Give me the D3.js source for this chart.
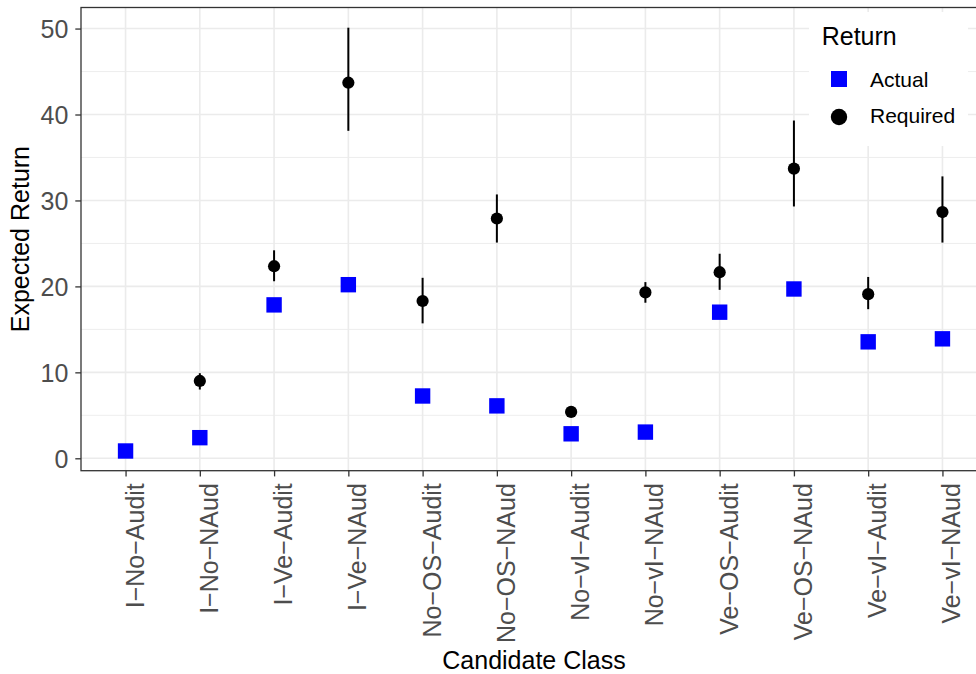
<!DOCTYPE html>
<html>
<head>
<meta charset="utf-8">
<script src="https://cdn.jsdelivr.net/npm/d3@7"></script>
<style>
  body { margin: 0; background: #fff; }
  svg { display: block; font-family: 'Liberation Sans', Arial, Helvetica, sans-serif; }
</style>
</head>
<body>
<svg id="svg" width="976" height="674"></svg>
<script>
// values
const categories = [
  'I−No−Audit', 'I−No−NAud', 'I−Ve−Audit', 'I−Ve−NAud',
  'No−OS−Audit', 'No−OS−NAud', 'No−vI−Audit', 'No−vI−NAud',
  'Ve−OS−Audit', 'Ve−OS−NAud', 'Ve−vI−Audit', 'Ve−vI−NAud'
];
const actual = [0.85, 2.4, 17.85, 20.2, 7.25, 6.1, 2.85, 3.05, 17.0, 19.7, 13.55, 13.9];
const required = [null, 9.0, 22.35, 43.7, 18.3, 27.9, 5.4, 19.3, 21.65, 33.7, 19.1, 28.65];
const requiredLow = [null, 8.0, 20.6, 38.1, 15.7, 25.1, 5.2, 18.1, 19.6, 29.3, 17.35, 25.1];
const requiredHigh = [null, 9.9, 24.2, 50.1, 21.0, 30.7, 5.6, 20.5, 23.8, 39.3, 21.1, 32.8];
const yTicks = [0, 10, 20, 30, 40, 50];
const yMinor = [5, 15, 25, 35, 45];
const legendLabels = ['Actual', 'Required'];

const rows = categories.map((c, i) => ({
  cat: c,
  actual: actual[i],
  req: required[i],
  lo: requiredLow[i],
  hi: requiredHigh[i]
}));

// panel box (right side runs past the picture edge, as in the reference)
const panel = { left: 81, right: 987, top: 7.5, bottom: 470.7 };

const svg = d3.select('#svg');
svg.append('rect').attr('width', 976).attr('height', 674).attr('fill', '#fff');

const x = d3.scalePoint()
  .domain(categories)
  .range([panel.left, panel.right])
  .padding(0.6);

const y = d3.scaleLinear()
  .domain([-1.443, 52.45])
  .range([panel.bottom, panel.top]);

const grid = svg.append('g').attr('class', 'grid');

grid.selectAll('line.minor')
  .data(yMinor)
  .join('line')
  .attr('class', 'minor')
  .attr('x1', panel.left).attr('x2', panel.right)
  .attr('y1', d => y(d)).attr('y2', d => y(d))
  .attr('stroke', '#ebebeb')
  .attr('stroke-width', 0.9);

grid.selectAll('line.majorY')
  .data(yTicks)
  .join('line')
  .attr('class', 'majorY')
  .attr('x1', panel.left).attr('x2', panel.right)
  .attr('y1', d => y(d)).attr('y2', d => y(d))
  .attr('stroke', '#ebebeb')
  .attr('stroke-width', 1.6);

grid.selectAll('line.majorX')
  .data(categories)
  .join('line')
  .attr('class', 'majorX')
  .attr('x1', d => x(d)).attr('x2', d => x(d))
  .attr('y1', panel.top).attr('y2', panel.bottom)
  .attr('stroke', '#ebebeb')
  .attr('stroke-width', 1.6);

// actual returns: blue squares
const sq = 15.4;
svg.append('g')
  .selectAll('rect')
  .data(rows)
  .join('rect')
  .attr('x', d => x(d.cat) - sq / 2)
  .attr('y', d => y(d.actual) - sq / 2)
  .attr('width', sq)
  .attr('height', sq)
  .attr('fill', '#0000ff');

// required returns: point + range
const req = svg.append('g')
  .selectAll('g')
  .data(rows.filter(d => d.req != null))
  .join('g');

req.append('line')
  .attr('x1', d => x(d.cat)).attr('x2', d => x(d.cat))
  .attr('y1', d => y(d.lo)).attr('y2', d => y(d.hi))
  .attr('stroke', '#000')
  .attr('stroke-width', 2);

req.append('circle')
  .attr('cx', d => x(d.cat))
  .attr('cy', d => y(d.req))
  .attr('r', 6.1)
  .attr('fill', '#000');

// legend inside panel, top right
const lg = svg.append('g').attr('transform', 'translate(809,12)');
lg.append('rect')
  .attr('width', 159).attr('height', 134)
  .attr('fill', '#fff');
lg.append('text')
  .attr('x', 12.7).attr('y', 33)
  .attr('font-size', 25)
  .attr('fill', '#000')
  .text('Return');
lg.append('rect')
  .attr('x', 30 - 8).attr('y', 67 - 8)
  .attr('width', 16).attr('height', 16)
  .attr('fill', '#0000ff');
lg.append('circle')
  .attr('cx', 30).attr('cy', 105)
  .attr('r', 8.2)
  .attr('fill', '#000');
lg.selectAll('text.lab')
  .data(legendLabels)
  .join('text')
  .attr('class', 'lab')
  .attr('x', 61)
  .attr('y', (d, i) => 75 + i * 36)
  .attr('font-size', 21)
  .attr('fill', '#000')
  .text(d => d);

// panel border
svg.append('rect')
  .attr('x', panel.left).attr('y', panel.top)
  .attr('width', panel.right - panel.left)
  .attr('height', panel.bottom - panel.top)
  .attr('fill', 'none')
  .attr('stroke', '#333333')
  .attr('stroke-width', 1.3);

// y axis
const yAxis = svg.append('g')
  .attr('transform', `translate(${panel.left},0)`)
  .call(d3.axisLeft(y).tickValues(yTicks).tickSize(5.7).tickPadding(7));
yAxis.select('.domain').remove();
yAxis.selectAll('.tick line').attr('stroke', '#333333').attr('stroke-width', 1.3);
yAxis.selectAll('.tick text')
  .attr('font-size', 25)
  .attr('font-family', null)
  .attr('fill', '#4d4d4d')
  .attr('dy', '0.36em');

// x axis
const xAxis = svg.append('g')
  .attr('transform', `translate(0,${panel.bottom})`)
  .call(d3.axisBottom(x).tickSize(5.7).tickFormat(''));
xAxis.select('.domain').remove();
xAxis.selectAll('.tick line').attr('stroke', '#333333').attr('stroke-width', 1.3);
xAxis.selectAll('.tick')
  .append('text')
  .attr('transform', 'translate(17.5,12.5) rotate(-90)')
  .attr('text-anchor', 'end')
  .attr('font-size', 25)
  .attr('fill', '#4d4d4d')
  .text(d => d);

// axis titles
svg.append('text')
  .attr('x', (panel.left + panel.right) / 2)
  .attr('y', 669)
  .attr('text-anchor', 'middle')
  .attr('font-size', 25)
  .attr('fill', '#000')
  .text('Candidate Class');

svg.append('text')
  .attr('transform', `translate(29,${(panel.top + panel.bottom) / 2}) rotate(-90)`)
  .attr('text-anchor', 'middle')
  .attr('font-size', 25)
  .attr('fill', '#000')
  .text('Expected Return');
</script>
</body>
</html>
